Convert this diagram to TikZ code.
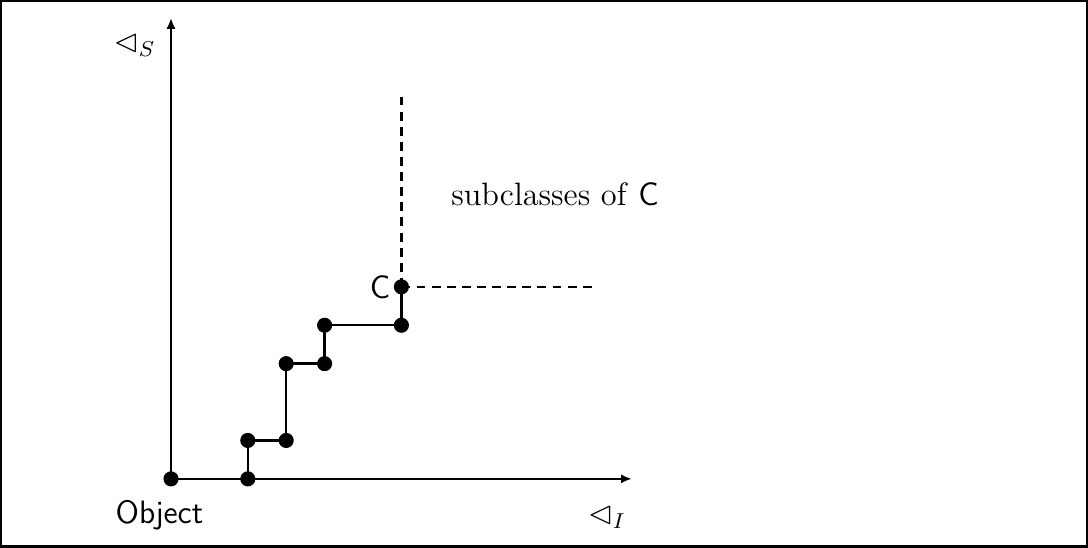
\documentclass[tikz,border=0pt]{standalone}
\usepackage{amsmath, amssymb}
\usetikzlibrary{arrows.meta, positioning}

\begin{document}
\begin{tikzpicture}[
    x=0.5cm, y=0.5cm,
    font=\large,
    dot/.style={circle, fill=black, inner sep=0pt, minimum size=5.6pt},
    axis/.style={draw=black, line width=0.9pt, -{Latex[length=1.4mm, width=1.2mm]}},
    chain/.style={draw=black, line width=0.9pt},
    bound/.style={draw=black, line width=0.9pt, dash pattern=on 3.3pt off 2.3pt}
]
    % frame
    \useasboundingbox (-4.453,-1.797) rectangle (23.88,12.47);
    \draw[line width=0.9pt] ([shift={(0.45pt,0.45pt)}]-4.453,-1.797) rectangle ([shift={(-0.45pt,-0.45pt)}]23.88,12.47);

    % axes
    \node [dot] (obj) at (0,0) {};
    \path [axis] (obj.center) -- (12,0);
    \path [axis] (obj.center) -- (0,12);
    \node at (-0.95,11.3) {$\lhd_S$};
    \node at (11.35,-1.0) {$\lhd_I$};
    \node at (-0.3,-0.95) {\textsf{Object}};

    % chain up to C
    \node [dot] (a1) at (2,0) {};
    \node [dot] (a2) at (2,1) {};
    \node [dot] (a3) at (3,1) {};
    \node [dot] (a4) at (3,3) {};
    \node [dot] (a5) at (4,3) {};
    \node [dot] (a6) at (4,4) {};
    \node [dot] (a7) at (6,4) {};
    \node [dot, label={[inner sep=1pt]left:\textsf{C}}] (c) at (6,5) {};
    \path [chain] (a1.center) -- (a2.center) -- (a3.center) -- (a4.center) -- (a5.center)
        -- (a6.center) -- (a7.center) -- (c.center);

    % subclasses of C
    \coordinate (ctop) at (6,10);
    \coordinate (cright) at (11,5);
    \path [bound] (c.center) -- (ctop);
    \path [bound] (c.center) -- (cright);
    \node at (10,7.4) {subclasses of \textsf{C}};
\end{tikzpicture}
\end{document}
